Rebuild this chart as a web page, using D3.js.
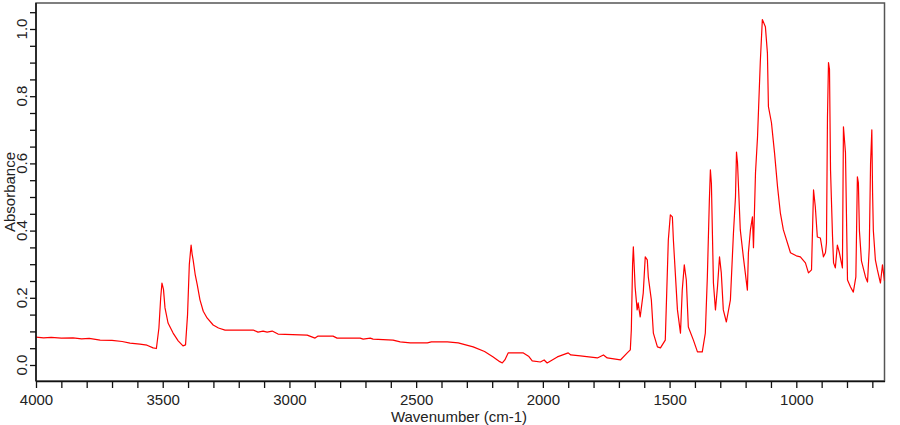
<!DOCTYPE html>
<html>
<head>
<meta charset="utf-8">
<script src="https://cdn.jsdelivr.net/npm/d3@7"></script>
<style>
  html, body { margin: 0; padding: 0; background: #fff; }
  svg { display: block; }
</style>
</head>
<body>
<div id="chart"></div>
<script>
// IR spectrum (wavenumber cm-1 -> absorbance)
var wavenumbers = [4000, 3970, 3940, 3900, 3854, 3820, 3790, 3747, 3700, 3660, 3629, 3590, 3562, 3538, 3525,
  3515, 3508, 3503, 3497, 3491, 3479, 3459, 3439, 3420, 3410, 3402, 3395, 3388, 3384, 3380, 3372, 3364, 3353,
  3340, 3325, 3301, 3280, 3254, 3195, 3143, 3124, 3104, 3088, 3068, 3045, 2930, 2899, 2887, 2828, 2812, 2721,
  2709, 2681, 2670, 2591, 2563, 2523, 2456, 2440, 2377, 2334, 2275, 2230, 2196, 2170, 2160, 2150, 2137, 2077,
  2055, 2042, 2010, 1995, 1983, 1943, 1900, 1890, 1852, 1785, 1761, 1746, 1694, 1667, 1655, 1651, 1646, 1643,
  1636, 1628, 1624, 1616, 1604, 1596, 1588, 1584, 1572, 1564, 1548, 1536, 1517, 1505, 1497, 1489, 1485, 1469,
  1457, 1450, 1442, 1434, 1426, 1406, 1390, 1371, 1359, 1351, 1343, 1339, 1335, 1327, 1319, 1311, 1303, 1296,
  1288, 1276, 1260, 1248, 1240, 1236, 1232, 1221, 1209, 1193, 1189, 1181, 1173, 1169, 1161, 1153, 1142, 1134,
  1122, 1114, 1110, 1098, 1094, 1086, 1074, 1063, 1051, 1023, 1000, 984, 964, 952, 940, 932, 925, 917, 905,
  893, 885, 881, 877, 873, 869, 865, 857, 853, 846, 838, 830, 818, 814, 806, 798, 786, 775, 765, 759, 755, 751,
  743, 727, 719, 712, 707, 702, 699, 696, 688, 680, 668, 660, 656, 652];
var absorbance = [0.083, 0.081, 0.082, 0.080, 0.081, 0.078, 0.079, 0.074, 0.073, 0.070, 0.065, 0.062, 0.059, 0.051, 0.049,
  0.110, 0.200, 0.244, 0.225, 0.170, 0.125, 0.095, 0.072, 0.057, 0.060, 0.150, 0.300, 0.357, 0.330, 0.313, 0.270, 0.240, 0.194,
  0.160, 0.140, 0.119, 0.110, 0.104, 0.104, 0.104, 0.098, 0.101, 0.098, 0.101, 0.092, 0.089, 0.080, 0.086, 0.086, 0.080, 0.080,
  0.077, 0.080, 0.077, 0.074, 0.069, 0.066, 0.066, 0.069, 0.069, 0.066, 0.054, 0.040, 0.024, 0.010, 0.006, 0.015, 0.036, 0.036,
  0.025, 0.012, 0.009, 0.015, 0.006, 0.024, 0.036, 0.030, 0.027, 0.021, 0.030, 0.021, 0.015, 0.036, 0.045, 0.104, 0.300, 0.352,
  0.232, 0.164, 0.185, 0.143, 0.214, 0.322, 0.313, 0.262, 0.194, 0.095, 0.054, 0.051, 0.074, 0.372, 0.447, 0.441, 0.372, 0.164,
  0.095, 0.223, 0.298, 0.253, 0.113, 0.074, 0.039, 0.039, 0.095, 0.262, 0.492, 0.581, 0.540, 0.244, 0.164, 0.232, 0.322, 0.274,
  0.164, 0.128, 0.194, 0.393, 0.500, 0.634, 0.602, 0.402, 0.322, 0.223, 0.334, 0.402, 0.441, 0.349, 0.572, 0.679, 0.903, 1.028,
  1.007, 0.929, 0.769, 0.721, 0.691, 0.632, 0.530, 0.453, 0.402, 0.334, 0.325, 0.322, 0.304, 0.274, 0.283, 0.521, 0.471, 0.381, 0.378,
  0.322, 0.334, 0.363, 0.739, 0.900, 0.879, 0.581, 0.381, 0.304, 0.289, 0.357, 0.334, 0.289, 0.709, 0.632, 0.253, 0.232, 0.217, 0.262, 0.560, 0.542, 0.400,
  0.310, 0.262, 0.247, 0.350, 0.600, 0.700, 0.512, 0.400, 0.313, 0.283, 0.244, 0.298, 0.274, 0.250];

var xTicks = d3.range(700, 4001, 100);
var xLabels = [1000, 1500, 2000, 2500, 3000, 3500, 4000];
var yTicks = d3.range(0, 21 + 1).map(function (i) { return +(i * 0.05).toFixed(2); });
var yLabels = [0, 0.2, 0.4, 0.6, 0.8, 1.0];

(function () {
  var W = 900, H = 425;
  var left = 36, right = 884.5, top = 3, bottom = 381;
  var font = "Arial, 'Liberation Sans', sans-serif";
  var ink = "#222";

  var svg = d3.select("#chart").append("svg").attr("width", W).attr("height", H);

  var x = d3.scaleLinear().domain([4000, 652]).range([left, right]);
  var y = d3.scaleLinear().domain([0, 1]).range([365, 29]);

  svg.append("defs").append("clipPath").attr("id", "plotclip")
    .append("rect").attr("x", left).attr("y", top).attr("width", right - left).attr("height", bottom - top);

  // frame
  svg.append("rect").attr("x", left).attr("y", top).attr("width", right - left).attr("height", bottom - top)
    .attr("fill", "none").attr("stroke", "#555").attr("stroke-width", 1.5);

  // spectrum
  var pts = wavenumbers.map(function (w, i) { return [w, absorbance[i]]; });
  svg.append("path").datum(pts)
    .attr("clip-path", "url(#plotclip)")
    .attr("d", d3.line().x(function (d) { return x(d[0]); }).y(function (d) { return y(d[1]); }))
    .attr("fill", "none").attr("stroke", "#ff0000").attr("stroke-width", 1.2).attr("stroke-linejoin", "round");

  // x axis
  var xa = svg.append("g").attr("transform", "translate(0," + bottom + ")")
    .call(d3.axisBottom(x).tickValues(xTicks).tickSize(7).tickSizeOuter(0)
      .tickFormat(function (d) { return xLabels.indexOf(d) >= 0 ? d : ""; }));
  xa.select(".domain").attr("stroke", "#111").attr("stroke-width", 1.5);
  xa.selectAll(".tick line").attr("stroke", "#111").attr("stroke-width", 1.3);
  xa.selectAll(".tick text").attr("y", 13).attr("fill", ink)
    .attr("font-size", 15).attr("font-family", font);

  // y axis
  var ya = svg.append("g").attr("transform", "translate(" + left + ",0)")
    .call(d3.axisLeft(y).tickValues(yTicks).tickSize(6).tickSizeOuter(0).tickFormat(""));
  ya.select(".domain").remove();
  ya.selectAll(".tick line").attr("stroke", "#111").attr("stroke-width", 1.3);
  svg.append("line").attr("x1", left).attr("x2", left).attr("y1", top).attr("y2", bottom)
    .attr("stroke", "#111").attr("stroke-width", 1.5);

  svg.append("g").selectAll("text").data(yLabels).join("text")
    .attr("transform", function (d) { return "translate(27," + y(d) + ") rotate(-90)"; })
    .attr("text-anchor", "middle").attr("fill", ink)
    .attr("font-size", 15).attr("font-family", font)
    .text(function (d) { return d.toFixed(1); });

  // axis titles
  svg.append("text").attr("x", 459).attr("y", 422).attr("text-anchor", "middle")
    .attr("fill", ink).attr("font-size", 15).attr("font-family", font).text("Wavenumber (cm-1)");
  svg.append("text").attr("transform", "translate(15,192) rotate(-90)").attr("text-anchor", "middle")
    .attr("fill", ink).attr("font-size", 15).attr("font-family", font).text("Absorbance");
})();
</script>
</body>
</html>
